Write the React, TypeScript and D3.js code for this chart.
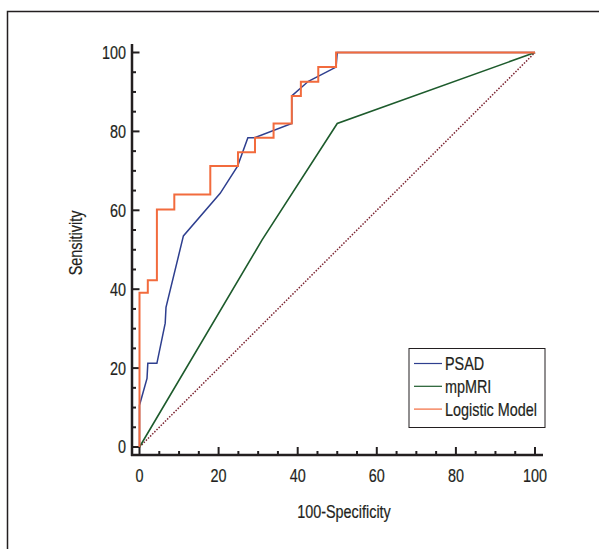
import React from "react";
import * as d3 from "d3";

const psadX = [0, 0, 1.9, 2.1, 4.4, 6.5, 6.7, 11.1, 20.4, 24.8, 27.4, 29.1, 38.5, 38.5, 42.7, 49.7, 50, 100];
const psadY = [0, 10.6, 17.4, 21.2, 21.2, 31.4, 35.4, 53.5, 64.3, 71.2, 78.4, 78.4, 82, 89, 92.7, 96.3, 100, 100];

const mriX = [0, 31, 50, 100];
const mriY = [0, 52.5, 82, 100];

const logX = [0, 2.1, 4.4, 8.8, 17.9, 24.9, 29.2, 33.9, 38.5, 40.8, 45.2, 49.7, 100];
const logY = [0, 39.1, 42.3, 60.2, 64.0, 71.2, 74.7, 78.4, 82.0, 89.0, 92.6, 96.3, 100];

const refX = [0, 100];
const refY = [0, 100];

const majorTicks = [0, 20, 40, 60, 80, 100];
const minorTicks = d3.range(0, 101, 5);

const legendLabels = ["PSAD", "mpMRI", "Logistic Model"];
const colors = ["#2e3f8f", "#1d5b2c", "#f26b3d"];

const FONT = "'Liberation Sans', Arial, sans-serif";
const INK = "#231f20";
const SX = 0.8;

function CText(props: { x: number; y: number; anchor?: string; rotate?: number; children: React.ReactNode }) {
  const { x, y, anchor = "start", rotate = 0, children } = props;
  return (
    <g transform={`translate(${x},${y}) rotate(${rotate}) scale(${SX},1)`}>
      <text x={0} y={0} dy="0.36em" textAnchor={anchor} fontSize={18} fill={INK} stroke={INK} strokeWidth={0.2}>
        {children}
      </text>
    </g>
  );
}

export default function App() {
  const x = d3.scaleLinear().domain([0, 100]).range([139.5, 535]);
  const y = d3.scaleLinear().domain([0, 100]).range([447, 52.5]);

  const line = d3.line<[number, number]>().x((d) => x(d[0])).y((d) => y(d[1]));
  const stepLine = d3
    .line<[number, number]>()
    .x((d) => x(d[0]))
    .y((d) => y(d[1]))
    .curve(d3.curveStepBefore);

  const zip = (a: number[], b: number[]) => a.map((v, i) => [v, b[i]] as [number, number]);

  const axisX = 132;
  const axisY = 455;

  return (
    <svg
      width={599}
      height={549}
      style={{ position: "absolute", left: 0, top: 0, background: "#fff" }}
      fontFamily={FONT}
    >
      <rect x={0} y={0} width={599} height={549} fill="#fff" />
      {/* frame */}
      <path d="M7.5,549 L7.5,11.5 L599,11.5" fill="none" stroke={INK} strokeWidth={1.5} />

      {/* axes */}
      <line x1={axisX} y1={44} x2={axisX} y2={axisY + 1} stroke={INK} strokeWidth={2.5} />
      <line x1={axisX - 1} y1={axisY} x2={543} y2={axisY} stroke={INK} strokeWidth={2.5} />

      {minorTicks.map((t) => {
        const major = t % 20 === 0;
        return (
          <g key={"t" + t}>
            <line x1={axisX} x2={axisX + (major ? 7.5 : 4)} y1={y(t)} y2={y(t)} stroke={INK} strokeWidth={2} />
            <line x1={x(t)} x2={x(t)} y1={axisY} y2={axisY - (major ? 8 : 4)} stroke={INK} strokeWidth={2} />
          </g>
        );
      })}

      {majorTicks.map((t) => (
        <CText key={"yl" + t} x={126} y={y(t)} anchor="end">
          {t}
        </CText>
      ))}
      {majorTicks.map((t) => (
        <CText key={"xl" + t} x={x(t)} y={476} anchor="middle">
          {t}
        </CText>
      ))}

      <CText x={344} y={512} anchor="middle">
        100-Specificity
      </CText>
      <CText x={76} y={243} anchor="middle" rotate={-90}>
        Sensitivity
      </CText>

      {/* reference diagonal */}
      <path d={line(zip(refX, refY)) || ""} fill="none" stroke="#7b2330" strokeWidth={1.5} strokeDasharray="1.5,1.5" />

      {/* curves */}
      <path d={line(zip(mriX, mriY)) || ""} fill="none" stroke={colors[1]} strokeWidth={1.6} />
      <path d={line(zip(psadX, psadY)) || ""} fill="none" stroke={colors[0]} strokeWidth={1.5} />
      <path d={stepLine(zip(logX, logY)) || ""} fill="none" stroke={colors[2]} strokeWidth={2} />

      {/* legend */}
      <rect x={409} y={348.5} width={136} height={79} fill="#fff" stroke={INK} strokeWidth={1} />
      {legendLabels.map((l, i) => {
        const ry = 363.5 + i * 22.8;
        return (
          <g key={l}>
            <line x1={414} x2={442} y1={ry} y2={ry} stroke={colors[i]} strokeWidth={1.2} />
            <CText x={445} y={ry}>
              {l}
            </CText>
          </g>
        );
      })}
    </svg>
  );
}
